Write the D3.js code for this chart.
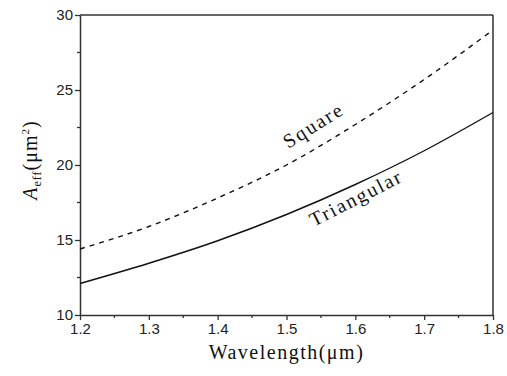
<!DOCTYPE html>
<html>
<head>
<meta charset="utf-8">
<script src="https://cdn.jsdelivr.net/npm/d3@7"></script>
<style>
  body { margin: 0; background: #fff; }
  svg { display: block; }
</style>
</head>
<body>
<div id="chart"></div>
<script>
var wavelength = [1.2, 1.3, 1.4, 1.5, 1.6, 1.7, 1.8];
var square = [14.4, 15.9, 17.8, 20.0, 22.7, 25.7, 29.0];
var triangular = [12.1, 13.45, 14.95, 16.7, 18.7, 20.95, 23.5];
var xTicks = [1.2, 1.3, 1.4, 1.5, 1.6, 1.7, 1.8];
var yTicks = [10, 15, 20, 25, 30];

var width = 507, height = 376;
var margin = {left: 80, right: 14, top: 15, bottom: 61};

var svg = d3.select("#chart").append("svg")
  .attr("width", width).attr("height", height);

var x = d3.scaleLinear().domain([1.2, 1.8]).range([margin.left, width - margin.right]);
var y = d3.scaleLinear().domain([10, 30]).range([height - margin.bottom, margin.top]);

// minor ticks
var xMinor = d3.range(1.25, 1.8, 0.1);
var yMinor = d3.range(12.5, 30, 5);

svg.append("g").selectAll("line").data(xMinor).enter().append("line")
  .attr("x1", function(d) {return x(d);}).attr("x2", function(d) {return x(d);})
  .attr("y1", y(10)).attr("y2", y(10) + 3)
  .attr("stroke", "#333").attr("stroke-width", 1.3);
svg.append("g").selectAll("line").data(yMinor).enter().append("line")
  .attr("y1", function(d) {return y(d);}).attr("y2", function(d) {return y(d);})
  .attr("x1", x(1.2)).attr("x2", x(1.2) - 3)
  .attr("stroke", "#333").attr("stroke-width", 1.3);

var xAxis = svg.append("g")
  .attr("transform", "translate(0," + y(10) + ")")
  .call(d3.axisBottom(x).tickValues(xTicks).tickSize(5).tickSizeOuter(0).tickPadding(3)
    .tickFormat(d3.format(".1f")));
var yAxis = svg.append("g")
  .attr("transform", "translate(" + x(1.2) + ",0)")
  .call(d3.axisLeft(y).tickValues(yTicks).tickSize(5).tickSizeOuter(0).tickPadding(2));

[xAxis, yAxis].forEach(function(a) {
  a.select(".domain").attr("stroke", "#333").attr("stroke-width", 1.5);
  a.selectAll(".tick line").attr("stroke", "#333").attr("stroke-width", 1.3);
  a.selectAll("text").attr("font-family", "Liberation Sans, Arial, sans-serif")
    .attr("font-size", 15).attr("fill", "#222");
});

// frame top and right
svg.append("line").attr("x1", x(1.2)).attr("x2", x(1.8)).attr("y1", y(30)).attr("y2", y(30))
  .attr("stroke", "#333").attr("stroke-width", 1.5);
svg.append("line").attr("x1", x(1.8)).attr("x2", x(1.8)).attr("y1", y(30)).attr("y2", y(10))
  .attr("stroke", "#333").attr("stroke-width", 1.5);

var line = d3.line()
  .x(function(d, i) {return x(wavelength[i]);})
  .y(function(d) {return y(d);})
  .curve(d3.curveMonotoneX);

svg.append("path").datum(square)
  .attr("fill", "none").attr("stroke", "#111").attr("stroke-width", 1.4)
  .attr("stroke-dasharray", "5,5")
  .attr("d", line);
svg.append("path").datum(triangular)
  .attr("fill", "none").attr("stroke", "#111").attr("stroke-width", 1.4)
  .attr("d", line);

var serif = "Liberation Serif, Times New Roman, serif";

svg.append("text").text("Square")
  .attr("transform", "translate(317,131) rotate(-32)")
  .attr("text-anchor", "middle").attr("font-family", serif).attr("font-size", 20)
  .attr("letter-spacing", 2).attr("fill", "#111");
svg.append("text").text("Triangular")
  .attr("transform", "translate(359,204) rotate(-27)")
  .attr("text-anchor", "middle").attr("font-family", serif).attr("font-size", 20)
  .attr("letter-spacing", 1.8).attr("fill", "#111");

// axis titles
svg.append("text").text("Wavelength(\u03bcm)")
  .attr("x", x(1.5)).attr("y", 359)
  .attr("text-anchor", "middle").attr("font-family", serif).attr("font-size", 20)
  .attr("letter-spacing", 1.5).attr("fill", "#111");

var yt = svg.append("text")
  .attr("transform", "translate(37,160) rotate(-90)")
  .attr("text-anchor", "middle").attr("font-family", serif).attr("font-size", 20)
  .attr("letter-spacing", 1).attr("fill", "#111");
yt.append("tspan").text("A").attr("font-style", "italic");
yt.append("tspan").text("eff").attr("font-size", 12).attr("dy", 4);
yt.append("tspan").text("(\u03bcm").attr("dy", -4);
yt.append("tspan").text("2").attr("font-size", 11).attr("dy", -8);
yt.append("tspan").text(")").attr("dy", 8);
</script>
</body>
</html>
